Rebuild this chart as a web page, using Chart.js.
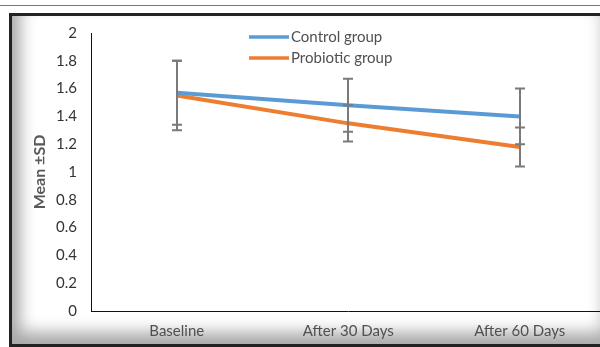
<!DOCTYPE html>
<html>
<head>
<meta charset="utf-8">
<script src="https://cdn.jsdelivr.net/npm/chart.js@4"></script>
<style>
  body { margin: 0; width: 600px; height: 347px; overflow: hidden; background: #fff; position: relative; }
  #topline { position: absolute; left: 0; top: 5px; width: 600px; border-top: 1px solid #777; }
  #frame {
    position: absolute; left: 9px; top: 13px; width: 610px; height: 334px; box-sizing: border-box;
    border: 3px solid #222; background: #fff;
    box-shadow: inset 20px 0 16px -12px #a8a8a8, inset 0 -24px 16px -12px #aaa, inset -26px 0 16px -12px #c0c0c0;
  }
  #c { position: absolute; left: 0; top: 0; }
</style>
</head>
<body>
<div id="topline"></div>
<div id="frame"></div>
<canvas id="c" width="620" height="347"></canvas>
<script>
const categories = ['Baseline', 'After 30 Days', 'After 60 Days'];
const controlMean = [1.57, 1.48, 1.40];
const controlSD = [0.23, 0.19, 0.20];
const probioticMean = [1.55, 1.35, 1.18];
const probioticSD = [0.25, 0.13, 0.14];

const textColor = '#505050';
const fontName = 'Lato';

// error bars (mean +/- SD), drawn from the y scale
const errorBars = {
    id: 'errorBars',
    afterDatasetsDraw(chart) {
        const ctx = chart.ctx;
        const y = chart.scales.y;
        ctx.save();
        ctx.strokeStyle = '#7a7a7a';
        ctx.lineWidth = 2;
        chart.data.datasets.forEach((ds, i) => {
            chart.getDatasetMeta(i).data.forEach((pt, j) => {
                const top = y.getPixelForValue(ds.data[j] + ds.sd[j]);
                const bot = y.getPixelForValue(ds.data[j] - ds.sd[j]);
                const x = Math.round(pt.x);
                ctx.beginPath();
                ctx.moveTo(x, top); ctx.lineTo(x, bot);
                ctx.moveTo(x - 5, top); ctx.lineTo(x + 5, top);
                ctx.moveTo(x - 5, bot); ctx.lineTo(x + 5, bot);
                ctx.stroke();
            });
        });
        ctx.restore();
    }
};

// stacked legend near the top of the plot
const stackedLegend = {
    id: 'stackedLegend',
    afterDraw(chart) {
        const ctx = chart.ctx;
        ctx.save();
        ctx.font = '15px ' + fontName;
        ctx.textBaseline = 'middle';
        chart.data.datasets.forEach((ds, i) => {
            const yy = 37 + i * 21;
            ctx.strokeStyle = ds.borderColor;
            ctx.lineWidth = 3.5;
            ctx.beginPath();
            ctx.moveTo(249, yy); ctx.lineTo(289, yy);
            ctx.stroke();
            ctx.fillStyle = textColor;
            ctx.fillText(ds.label, 291, yy);
        });
        ctx.restore();
    }
};

const ctx = document.getElementById('c').getContext('2d');
const myChart = new Chart(ctx, {
    type: 'line',
    data: {
        labels: categories,
        datasets: [{
            label: 'Control group',
            data: controlMean,
            sd: controlSD,
            borderColor: '#5B9BD5',
            borderWidth: 4,
            pointRadius: 0,
            tension: 0
        }, {
            label: 'Probiotic group',
            data: probioticMean,
            sd: probioticSD,
            borderColor: '#ED7D31',
            borderWidth: 4,
            pointRadius: 0,
            tension: 0
        }]
    },
    options: {
        responsive: false,
        animation: false,
        layout: { padding: { top: 33, right: 14.5, left: 0, bottom: 0 } },
        plugins: { legend: { display: false }, tooltip: { enabled: false } },
        scales: {
            x: {
                offset: true,
                grid: { color: 'rgba(0,0,0,0)', drawTicks: false },
                border: { color: '#111', width: 1 },
                ticks: { color: textColor, padding: 11, font: { family: fontName, size: 15 } },
                afterFit(scale) { scale.height = 36; }
            },
            y: {
                min: 0,
                max: 2,
                grid: { color: 'rgba(0,0,0,0)', drawTicks: false },
                border: { color: '#111', width: 1 },
                ticks: {
                    stepSize: 0.2,
                    padding: 14,
                    color: '#333',
                    font: { family: fontName, size: 15 },
                    callback: v => String(Number(v.toFixed(1)))
                },
                title: {
                    display: true,
                    text: 'Mean ±SD',
                    color: '#595959',
                    padding: { top: 30, bottom: 0 },
                    font: { family: fontName, size: 16, weight: 'bold' }
                },
                afterFit(scale) { scale.width = 91; }
            }
        }
    },
    plugins: [errorBars, stackedLegend]
});
</script>
</body>
</html>
